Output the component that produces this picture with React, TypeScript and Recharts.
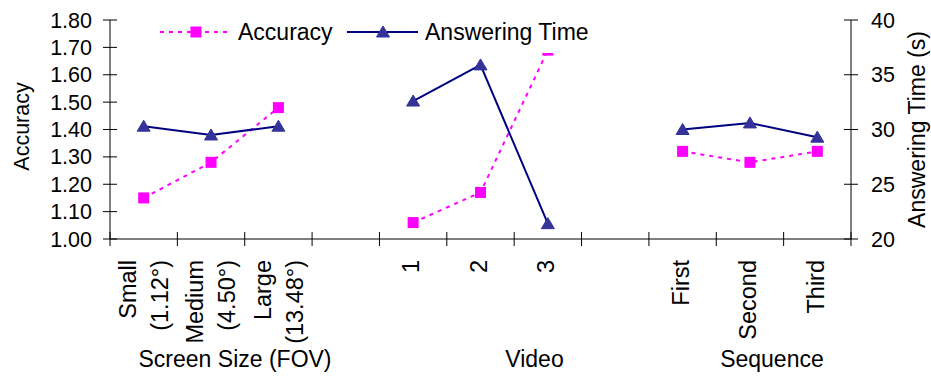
import { ComposedChart, Line, XAxis, YAxis, Legend } from 'recharts'

const categories = ['Small (1.12°)', 'Medium (4.50°)', 'Large (13.48°)', '', '1', '2', '3', '', 'First', 'Second', 'Third']
const tickLabels: string[][] = [
  ['Small', '(1.12°)'],
  ['Medium', '(4.50°)'],
  ['Large', '(13.48°)'],
  [],
  ['1'],
  ['2'],
  ['3'],
  [],
  ['First'],
  ['Second'],
  ['Third'],
]
const groupLabels = ['Screen Size (FOV)', 'Video', 'Sequence']
const accuracy = [1.15, 1.28, 1.48, null, 1.06, 1.17, 1.69, null, 1.32, 1.28, 1.32]
const answeringTime = [30.3, 29.5, 30.3, null, 32.6, 35.9, 21.4, null, 30.0, 30.6, 29.3]
const accuracyTicks = [1.0, 1.1, 1.2, 1.3, 1.4, 1.5, 1.6, 1.7, 1.8]
const timeTicks = [20, 25, 30, 35, 40]

const data = categories.map((name, i) => ({
  name,
  accuracy: accuracy[i],
  time: answeringTime[i],
}))

const FONT = '"Liberation Sans", Arial, sans-serif'
const PLOT_LEFT = 110
const PLOT_RIGHT = 851
const BAND = (PLOT_RIGHT - PLOT_LEFT) / categories.length
const PINK = '#FF00FF'
const NAVY = '#000080'
const TRI = '#333399'

// where each group caption sits: category index it hangs under, plus a nudge
const groupSpots: Record<number, { label: string; dx: number }> = {
  1: { label: groupLabels[0], dx: 24 },
  5: { label: groupLabels[1], dx: 54 },
  9: { label: groupLabels[2], dx: 22 },
}

function CategoryTick(props: any) {
  const { x, y, index } = props
  const lines = tickLabels[index] || []
  const left = x - BAND / 2
  const group = groupSpots[index]
  return (
    <g>
      <line x1={left} x2={left} y1={y - 7} y2={y + 7} stroke="#000" />
      {index === categories.length - 1 && (
        <line x1={left + BAND} x2={left + BAND} y1={y - 7} y2={y + 7} stroke="#000" />
      )}
      {lines.map((t, k) => {
        const off = lines.length > 1 ? (k === 0 ? -16 : 16) : -2
        return (
          <text
            key={k}
            transform={`translate(${x + off}, ${y + 21}) rotate(-90)`}
            textAnchor="end"
            dy="0.35em"
            fontSize={23.5}
            fill="#000"
          >
            {t}
          </text>
        )
      })}
      {group && (
        <text x={x + group.dx} y={y + 128} textAnchor="middle" fontSize={23} fill="#000">
          {group.label}
        </text>
      )}
    </g>
  )
}

function LeftTick(props: any) {
  const { x, y, payload } = props
  return (
    <g>
      <line x1={x - 7} x2={x + 7} y1={y} y2={y} stroke="#000" />
      <text x={x - 18} y={y} dy="0.35em" textAnchor="end" fontSize={21.5} fill="#000">
        {Number(payload.value).toFixed(2)}
      </text>
    </g>
  )
}

function RightTick(props: any) {
  const { x, y, payload } = props
  return (
    <g>
      <line x1={x - 7} x2={x + 7} y1={y} y2={y} stroke="#000" />
      <text x={x + 20} y={y} dy="0.35em" textAnchor="start" fontSize={21.5} fill="#000">
        {payload.value}
      </text>
    </g>
  )
}

function SquareDot(props: any) {
  const { cx, cy, value } = props
  if (value == null || cy == null) return <g />
  return <rect x={cx - 5.5} y={cy - 5.5} width={11} height={11} fill={PINK} />
}

function TriangleDot(props: any) {
  const { cx, cy, value } = props
  if (value == null || cy == null) return <g />
  return <path d={`M${cx},${cy - 6} L${cx + 6.5},${cy + 5} L${cx - 6.5},${cy + 5} Z`} fill={TRI} stroke={TRI} />
}

function LegendBox(props: any) {
  const items = props.payload || []
  const spots = [
    { x0: 10, x1: 79, m: 46, tx: 88 },
    { x0: 197, x1: 268, m: 233, tx: 275 },
  ]
  return (
    <svg width={450} height={41} style={{ display: 'block', background: '#fff' }}>
      {items.map((item: any, i: number) => {
        const s = spots[i]
        if (!s) return null
        const isAcc = item.dataKey === 'accuracy'
        return (
          <g key={i}>
            <line
              x1={s.x0}
              x2={s.x1}
              y1={20}
              y2={20}
              stroke={isAcc ? PINK : NAVY}
              strokeWidth={2}
              strokeDasharray={isAcc ? '4 5' : undefined}
            />
            {isAcc ? (
              <rect x={s.m - 5.5} y={14.5} width={11} height={11} fill={PINK} />
            ) : (
              <path d={`M${s.m},14 L${s.m + 6.5},25 L${s.m - 6.5},25 Z`} fill={TRI} stroke={TRI} />
            )}
            <text x={s.tx} y={20} dy="0.35em" fontSize={23} fontFamily={FONT} fill="#000">
              {item.value}
            </text>
          </g>
        )
      })}
    </svg>
  )
}

export default function App() {
  return (
    <div style={{ position: 'absolute', left: 0, top: 0, width: 931, height: 376, background: '#fff', fontFamily: FONT }}>
      <ComposedChart width={931} height={376} data={data} margin={{ top: 20, right: 0, bottom: 0, left: 0 }} style={{ fontFamily: FONT }}>
        <XAxis
          dataKey="name"
          interval={0}
          height={137}
          padding={{ left: BAND / 2, right: BAND / 2 }}
          tickSize={0}
          tickMargin={0}
          tickLine={false}
          axisLine={{ stroke: '#555', strokeWidth: 1.5 }}
          tick={<CategoryTick />}
        />
        <YAxis
          yAxisId="acc"
          orientation="left"
          width={110}
          domain={[1, 1.8]}
          ticks={accuracyTicks}
          tickSize={0}
          tickMargin={0}
          tickLine={false}
          axisLine={{ stroke: '#000' }}
          tick={<LeftTick />}
          label={{
            content: (p: any) => {
              const vb = p.viewBox
              const cx = vb.x + 21
              const cy = vb.y + vb.height / 2 - 3
              return (
                <text transform={`translate(${cx}, ${cy}) rotate(-90)`} textAnchor="middle" dy="0.35em" fontSize={21.5} fill="#000">
                  Accuracy
                </text>
              )
            },
          }}
        />
        <YAxis
          yAxisId="time"
          orientation="right"
          width={80}
          domain={[20, 40]}
          ticks={timeTicks}
          tickSize={0}
          tickMargin={0}
          tickLine={false}
          axisLine={{ stroke: '#000' }}
          tick={<RightTick />}
          label={{
            content: (p: any) => {
              const vb = p.viewBox
              const cx = vb.x + 66
              const cy = vb.y + vb.height / 2
              return (
                <text transform={`translate(${cx}, ${cy}) rotate(-90)`} textAnchor="middle" dy="0.35em" fontSize={23} fill="#000">
                  Answering Time (s)
                </text>
              )
            },
          }}
        />
        <Legend
          layout="vertical"
          align="center"
          verticalAlign="middle"
          wrapperStyle={{ top: 12, left: 150, width: 450, height: 41 }}
          content={<LegendBox />}
        />
        <Line
          yAxisId="acc"
          dataKey="accuracy"
          name="Accuracy"
          stroke={PINK}
          strokeWidth={2}
          strokeDasharray="4 5"
          dot={<SquareDot />}
          activeDot={false}
          isAnimationActive={false}
        />
        <Line
          yAxisId="time"
          dataKey="time"
          name="Answering Time"
          stroke={NAVY}
          strokeWidth={2}
          dot={<TriangleDot />}
          activeDot={false}
          isAnimationActive={false}
        />
      </ComposedChart>
    </div>
  )
}
